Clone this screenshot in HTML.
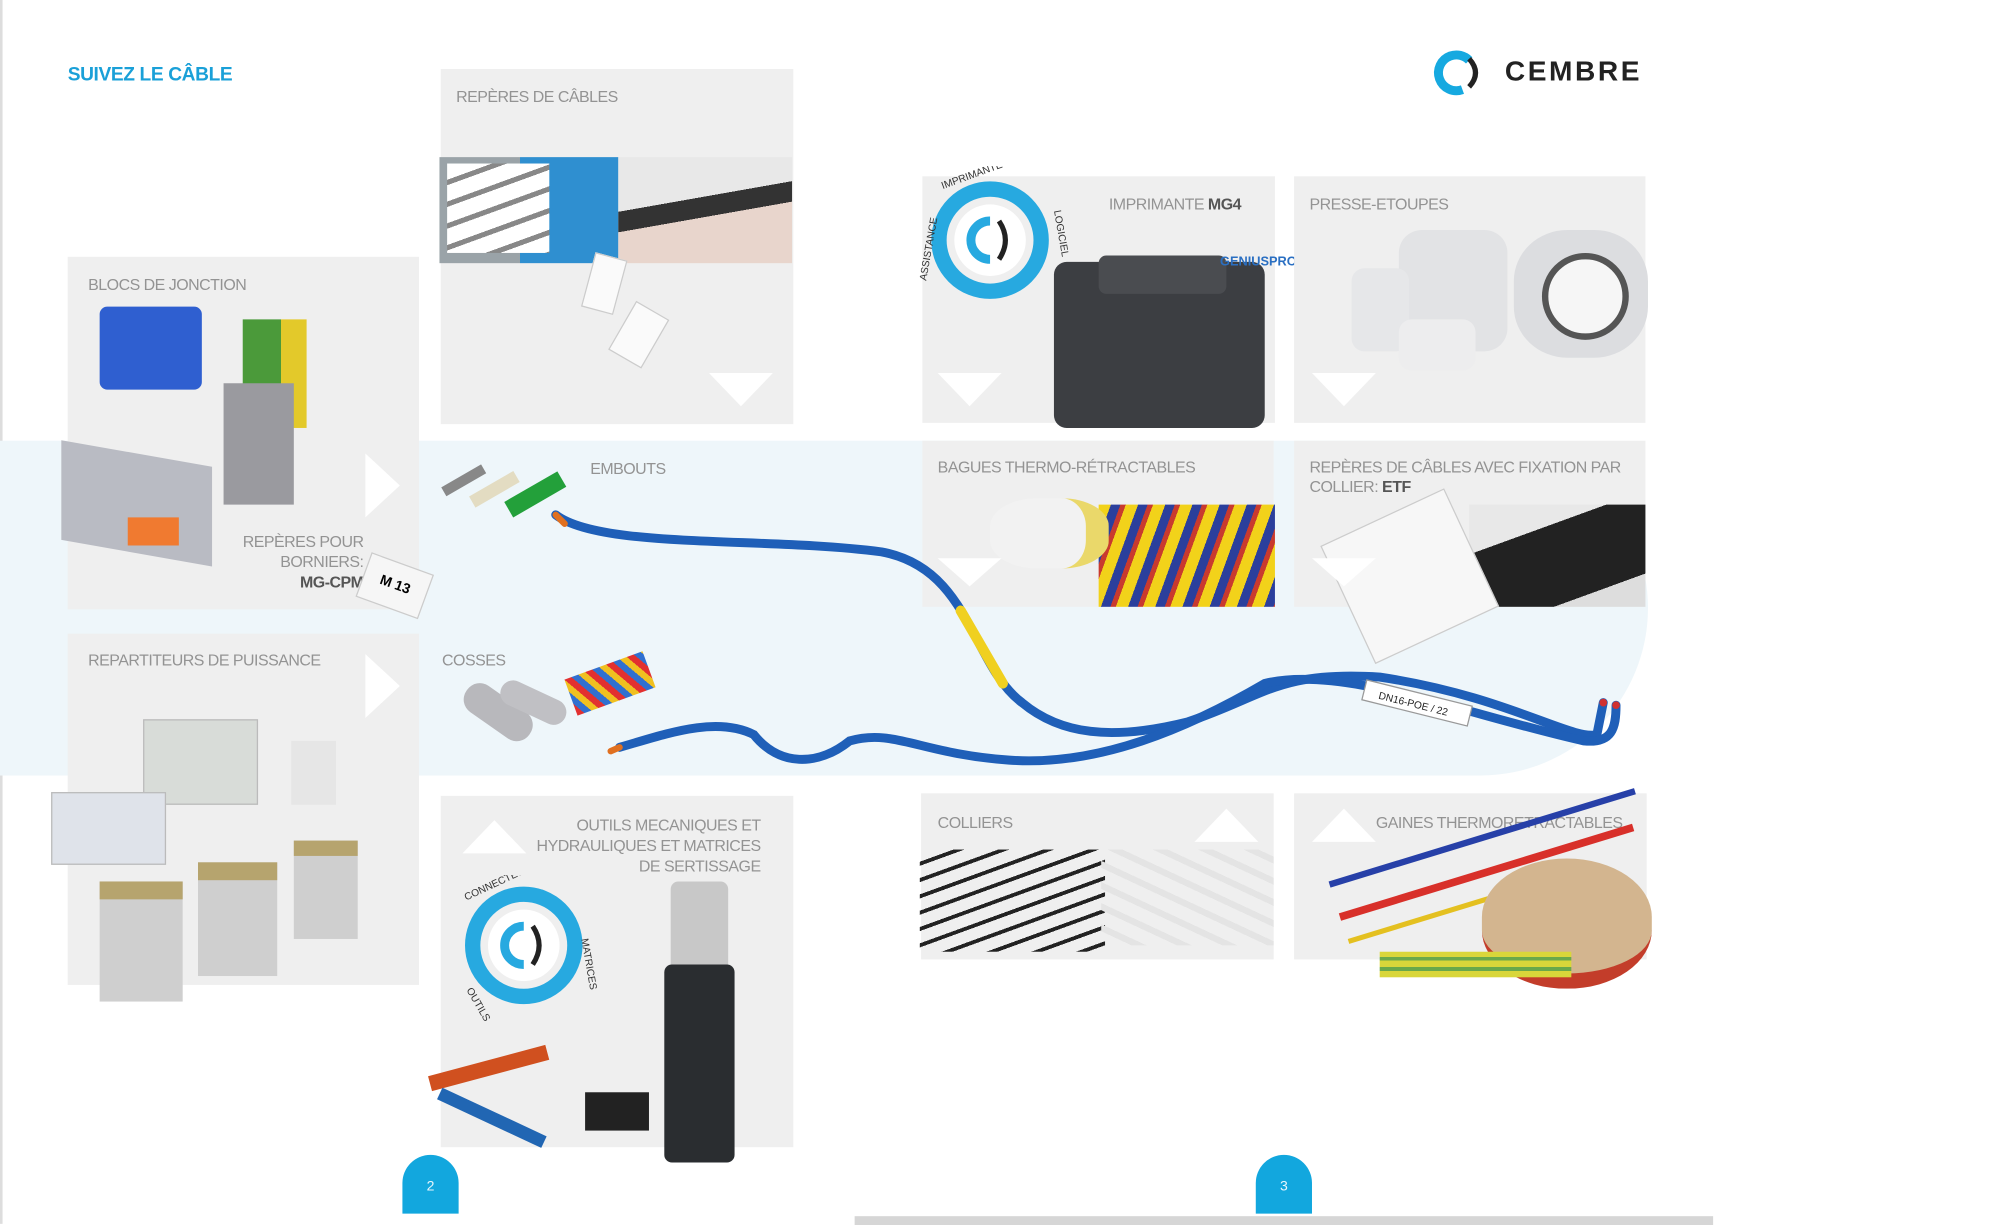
<!DOCTYPE html>
<html><head><meta charset="utf-8"><style>
html,body{margin:0;padding:0;background:#fff;}
body{width:2000px;height:1224px;overflow:hidden;position:relative;font-family:"Liberation Sans",sans-serif;}
#w{position:absolute;left:0;top:0;width:1566px;height:958px;transform:scale(1.2775);transform-origin:0 0;}
.a{position:absolute;}
.box{position:absolute;background:#efefef;}
.lb{position:absolute;font-size:12.5px;color:#939393;letter-spacing:-0.4px;white-space:nowrap;}
.lb b{color:#555;}
.td{position:absolute;width:0;height:0;border-left:25px solid transparent;border-right:25px solid transparent;border-top:26px solid #fff;}
.tu{position:absolute;width:0;height:0;border-left:25px solid transparent;border-right:25px solid transparent;border-bottom:26px solid #fff;}
.tr{position:absolute;width:0;height:0;border-top:25px solid transparent;border-bottom:25px solid transparent;border-left:27px solid #fff;}
.pg{position:absolute;width:44px;height:46px;background:#12a7de;border-radius:22px 22px 0 0;color:#e8f6fc;font-size:11px;text-align:center;line-height:50px;}
</style></head><body><div id="w">
<div class="a" style="left:0;top:0;width:2px;height:958px;background:#ddd"></div>
<div class="a" style="left:0;top:345px;width:1290px;height:262px;background:#eef6fa;border-radius:0 140px 140px 0"></div>

<div class="a" style="left:53px;top:50px;font-size:15px;font-weight:bold;color:#1aa0d8;letter-spacing:-0.3px">SUIVEZ LE CÂBLE</div>
<svg class="a" style="left:1120px;top:36px" width="42" height="42"><circle cx="20" cy="21" r="14" fill="none" stroke="#16a9e0" stroke-width="7" stroke-dasharray="60 30" transform="rotate(70 20 21)"/><path d="M30 10 Q40 21 30 32" fill="none" stroke="#222" stroke-width="4"/></svg>
<div class="a" style="left:1178px;top:43px;font-size:22px;font-weight:bold;color:#222;letter-spacing:2px">CEMBRE</div>

<div class="box" style="left:345px;top:54px;width:276px;height:278px"></div>
<div class="lb" style="left:357px;top:69px">REPÈRES DE CÂBLES</div>
<div class="a" style="left:344px;top:123px;width:140px;height:83px;background:linear-gradient(90deg,#9aa3a8 0 45%,#2f8fd0 45% 100%)"></div>
<div class="a" style="left:350px;top:128px;width:80px;height:70px;background:repeating-linear-gradient(160deg,#fff 0 12px,#888 12px 16px)"></div>
<div class="a" style="left:484px;top:123px;width:136px;height:83px;background:linear-gradient(170deg,#e8e8e8 0 40%,#333 40% 55%,#e8d5cc 55%)"></div>
<div class="a" style="left:460px;top:200px;width:24px;height:42px;background:#fafafa;border:1px solid #ccc;transform:rotate(15deg)"></div>
<div class="a" style="left:485px;top:240px;width:28px;height:42px;background:#fafafa;border:1px solid #ccc;transform:rotate(30deg)"></div>
<div class="td" style="left:555px;top:292px"></div>

<div class="box" style="left:53px;top:201px;width:275px;height:276px"></div>
<div class="lb" style="left:69px;top:216px">BLOCS DE JONCTION</div>
<div class="a" style="left:78px;top:240px;width:80px;height:65px;background:#2f5fd0;border-radius:6px"></div>
<div class="a" style="left:190px;top:250px;width:50px;height:85px;background:linear-gradient(90deg,#4b9a3a 60%,#e3c92a 60%)"></div>
<div class="a" style="left:175px;top:300px;width:55px;height:95px;background:#9a9a9f"></div>
<div class="a" style="left:48px;top:355px;width:118px;height:78px;background:#b9bbc3;transform:skewY(10deg)"></div>
<div class="a" style="left:100px;top:405px;width:40px;height:22px;background:#f07a30"></div>
<div class="lb" style="left:190px;top:416px;text-align:right;line-height:16px">REPÈRES POUR<br>&nbsp;&nbsp;&nbsp;&nbsp;BORNIERS:<br>&nbsp;&nbsp;&nbsp;&nbsp;<b>MG-CPM</b></div>
<div class="a" style="left:283px;top:440px;width:50px;height:35px;background:#f6f6f6;border:1px solid #ccc;transform:rotate(20deg);font-size:11px;font-weight:bold;text-align:center;line-height:35px">M 13</div>
<div class="tr" style="left:286px;top:355px"></div>

<div class="box" style="left:53px;top:496px;width:275px;height:275px"></div>
<div class="lb" style="left:69px;top:510px">REPARTITEURS DE PUISSANCE</div>
<div class="tr" style="left:286px;top:512px"></div>
<div class="a" style="left:112px;top:563px;width:88px;height:65px;background:#d8dcd8;border:1px solid #bbb"></div>
<div class="a" style="left:40px;top:620px;width:88px;height:55px;background:#dfe3ea;border:1px solid #bbb"></div>
<div class="a" style="left:228px;top:580px;width:35px;height:50px;background:#e6e6e6"></div>
<div class="a" style="left:78px;top:690px;width:65px;height:80px;background:#cfcfcf;border-top:14px solid #b6a46e"></div>
<div class="a" style="left:155px;top:675px;width:62px;height:75px;background:#cfcfcf;border-top:14px solid #b6a46e"></div>
<div class="a" style="left:230px;top:658px;width:50px;height:65px;background:#cfcfcf;border-top:12px solid #b6a46e"></div>

<div class="box" style="left:345px;top:623px;width:276px;height:275px"></div>
<div class="lb" style="left:420px;top:638px;text-align:right;line-height:16px">OUTILS MECANIQUES ET<br>HYDRAULIQUES ET MATRICES<br>DE SERTISSAGE</div>
<div class="tu" style="left:362px;top:642px"></div>
<svg class="a" style="left:355px;top:685px" width="120" height="115"><circle cx="55" cy="55" r="40" fill="none" stroke="#27a9e0" stroke-width="12"/><circle cx="55" cy="55" r="28" fill="#fff"/><path d="M55 40 A15 15 0 1 0 55 70" fill="none" stroke="#27a9e0" stroke-width="7"/><path d="M62 40 Q72 55 62 70" fill="none" stroke="#222" stroke-width="4"/><text x="10" y="20" font-size="8" fill="#333" transform="rotate(-25 10 20)">CONNECTEURS</text><text x="100" y="50" font-size="8" fill="#333" transform="rotate(80 100 50)">MATRICES</text><text x="10" y="90" font-size="8" fill="#333" transform="rotate(60 10 90)">OUTILS</text></svg>
<div class="a" style="left:525px;top:690px;width:45px;height:70px;background:#c8c8c8;border-radius:6px"></div>
<div class="a" style="left:520px;top:755px;width:55px;height:155px;background:#2a2d30;border-radius:6px"></div>
<div class="a" style="left:335px;top:830px;width:95px;height:12px;background:#d0501f;transform:rotate(-15deg)"></div>
<div class="a" style="left:340px;top:870px;width:90px;height:10px;background:#2166b3;transform:rotate(25deg)"></div>
<div class="a" style="left:458px;top:855px;width:50px;height:30px;background:#222"></div>

<div class="box" style="left:722px;top:138px;width:276px;height:193px"></div>
<div class="lb" style="left:868px;top:153px">IMPRIMANTE <b>MG4</b></div>
<svg class="a" style="left:720px;top:130px" width="120" height="120"><circle cx="55" cy="58" r="40" fill="none" stroke="#27a9e0" stroke-width="12"/><circle cx="55" cy="58" r="28" fill="#fff"/><path d="M55 43 A15 15 0 1 0 55 73" fill="none" stroke="#27a9e0" stroke-width="7"/><path d="M62 43 Q72 58 62 73" fill="none" stroke="#222" stroke-width="4"/><text x="18" y="18" font-size="8" fill="#333" transform="rotate(-20 18 18)">IMPRIMANTE</text><text x="105" y="35" font-size="8" fill="#333" transform="rotate(80 105 35)">LOGICIEL</text><text x="5" y="90" font-size="8" fill="#333" transform="rotate(-80 5 90)">ASSISTANCE</text></svg>
<div class="a" style="left:825px;top:205px;width:165px;height:130px;background:#3c3e42;border-radius:10px"></div>
<div class="a" style="left:860px;top:200px;width:100px;height:30px;background:#4a4c50;border-radius:6px"></div>
<div class="a" style="left:955px;top:200px;font-size:10px;font-weight:bold;color:#2a6fc2">GENIUSPRO</div>
<div class="td" style="left:734px;top:292px"></div>

<div class="box" style="left:1013px;top:138px;width:275px;height:193px"></div>
<div class="lb" style="left:1025px;top:153px">PRESSE-ETOUPES</div>
<div class="a" style="left:1095px;top:180px;width:85px;height:95px;background:#e2e3e5;border-radius:18px"></div>
<div class="a" style="left:1058px;top:210px;width:45px;height:65px;background:#e6e7e9;border-radius:10px"></div>
<div class="a" style="left:1095px;top:250px;width:60px;height:40px;background:#ededee;border-radius:10px"></div>
<div class="a" style="left:1185px;top:180px;width:105px;height:100px;background:#dcdde0;border-radius:40%"></div>
<div class="a" style="left:1207px;top:198px;width:68px;height:68px;background:#f6f6f6;border:5px solid #555;border-radius:50%;box-sizing:border-box"></div>
<div class="td" style="left:1027px;top:292px"></div>

<div class="box" style="left:722px;top:345px;width:275px;height:130px"></div>
<div class="lb" style="left:734px;top:359px">BAGUES THERMO-RÉTRACTABLES</div>
<div class="a" style="left:860px;top:395px;width:138px;height:80px;background:repeating-linear-gradient(110deg,#f2d21a 0 9px,#2b3f9c 9px 16px,#c93a2e 16px 20px)"></div>
<div class="a" style="left:775px;top:390px;width:75px;height:55px;background:#f2f2f2;border-radius:40%;border-right:18px solid #ead86a"></div>
<div class="td" style="left:734px;top:437px;border-top-width:22px"></div>

<div class="box" style="left:1013px;top:345px;width:275px;height:130px"></div>
<div class="lb" style="left:1025px;top:359px;line-height:15px">REPÈRES DE CÂBLES AVEC FIXATION PAR<br>COLLIER: <b>ETF</b></div>
<div class="a" style="left:1150px;top:395px;width:138px;height:80px;background:linear-gradient(160deg,#e8e8e8 0 30%,#222 30% 80%,#ddd 80%)"></div>
<div class="a" style="left:1050px;top:400px;width:105px;height:100px;background:#f7f7f7;border:1px solid #ccc;transform:rotate(-25deg)"></div>
<div class="td" style="left:1027px;top:437px;border-top-width:22px"></div>

<div class="box" style="left:721px;top:621px;width:276px;height:130px"></div>
<div class="lb" style="left:734px;top:637px">COLLIERS</div>
<div class="tu" style="left:935px;top:633px"></div>
<div class="a" style="left:720px;top:665px;width:145px;height:80px;background:repeating-linear-gradient(160deg,transparent 0 9px,#222 9px 12px)"></div>
<div class="a" style="left:862px;top:665px;width:135px;height:75px;background:repeating-linear-gradient(25deg,transparent 0 10px,#e4e4e4 10px 15px)"></div>

<div class="box" style="left:1013px;top:621px;width:276px;height:130px"></div>
<div class="lb" style="left:1077px;top:637px">GAINES THERMORETRACTABLES</div>
<div class="tu" style="left:1027px;top:633px"></div>
<div class="a" style="left:1040px;top:690px;width:250px;height:5px;background:#2740a8;transform:rotate(-17deg);transform-origin:0 0"></div>
<div class="a" style="left:1048px;top:715px;width:240px;height:6px;background:#d8302a;transform:rotate(-17deg);transform-origin:0 0"></div>
<div class="a" style="left:1055px;top:735px;width:200px;height:4px;background:#e4c020;transform:rotate(-17deg);transform-origin:0 0"></div>
<div class="a" style="left:1160px;top:672px;width:133px;height:90px;background:#d3b58f;border-radius:50%/45%;border-bottom:12px solid #c33d2a"></div>
<div class="a" style="left:1080px;top:745px;width:150px;height:20px;background:repeating-linear-gradient(0deg,#d9d63a 0 5px,#6aa84a 5px 8px)"></div>

<div class="lb" style="left:462px;top:360px">EMBOUTS</div>
<div class="a" style="left:345px;top:372px;width:36px;height:8px;background:#888;transform:rotate(-30deg)"></div>
<div class="a" style="left:367px;top:378px;width:40px;height:10px;background:#e3dcc2;transform:rotate(-30deg)"></div>
<div class="a" style="left:395px;top:380px;width:48px;height:14px;background:#23a03a;transform:rotate(-30deg)"></div>
<div class="lb" style="left:346px;top:510px">COSSES</div>
<div class="a" style="left:360px;top:545px;width:60px;height:25px;background:#b8b8bc;border-radius:12px;transform:rotate(35deg)"></div>
<div class="a" style="left:390px;top:540px;width:55px;height:20px;background:#c0c0c4;border-radius:10px;transform:rotate(25deg)"></div>
<div class="a" style="left:445px;top:520px;width:65px;height:30px;background:repeating-linear-gradient(60deg,#e23030 0 5px,#3070d0 5px 10px,#f0c020 10px 15px);transform:rotate(-20deg)"></div>

<svg class="a" style="left:0;top:0" width="1566" height="958">
<g fill="none" stroke-linecap="round">
<path d="M435 403 C470 430 600 420 690 432 C760 445 760 520 800 550 C830 575 870 580 930 565 C990 545 1000 525 1080 530 C1180 545 1230 580 1250 575 L1255 550" stroke="#1f5fb8" stroke-width="7"/>
<path d="M485 585 C520 575 560 560 590 575 C610 600 640 600 665 580 C700 570 720 590 790 595 C860 600 930 570 990 535 C1050 520 1150 560 1240 580 C1262 582 1265 570 1265 552" stroke="#1f5fb8" stroke-width="7"/>
<path d="M752 478 L785 535" stroke="#f0d020" stroke-width="8"/>
<path d="M435 403 L442 410" stroke="#e07020" stroke-width="5"/>
<path d="M485 585 L478 588" stroke="#e07020" stroke-width="5"/>
</g>
<g transform="translate(1068 540) rotate(14)"><rect x="0" y="-8" width="85" height="16" fill="#fff" stroke="#999"/><text x="12" y="4" font-size="8" font-family="Liberation Sans" fill="#222">DN16-POE / 22</text></g>
<circle cx="1255" cy="550" r="3" fill="#d03030"/><circle cx="1265" cy="552" r="3" fill="#d03030"/>
</svg>

<div class="pg" style="left:315px;top:904px">2</div>
<div class="pg" style="left:983px;top:904px">3</div>
<div class="a" style="left:669px;top:952px;width:672px;height:7px;background:#d6d6d6"></div>
</div></body></html>
